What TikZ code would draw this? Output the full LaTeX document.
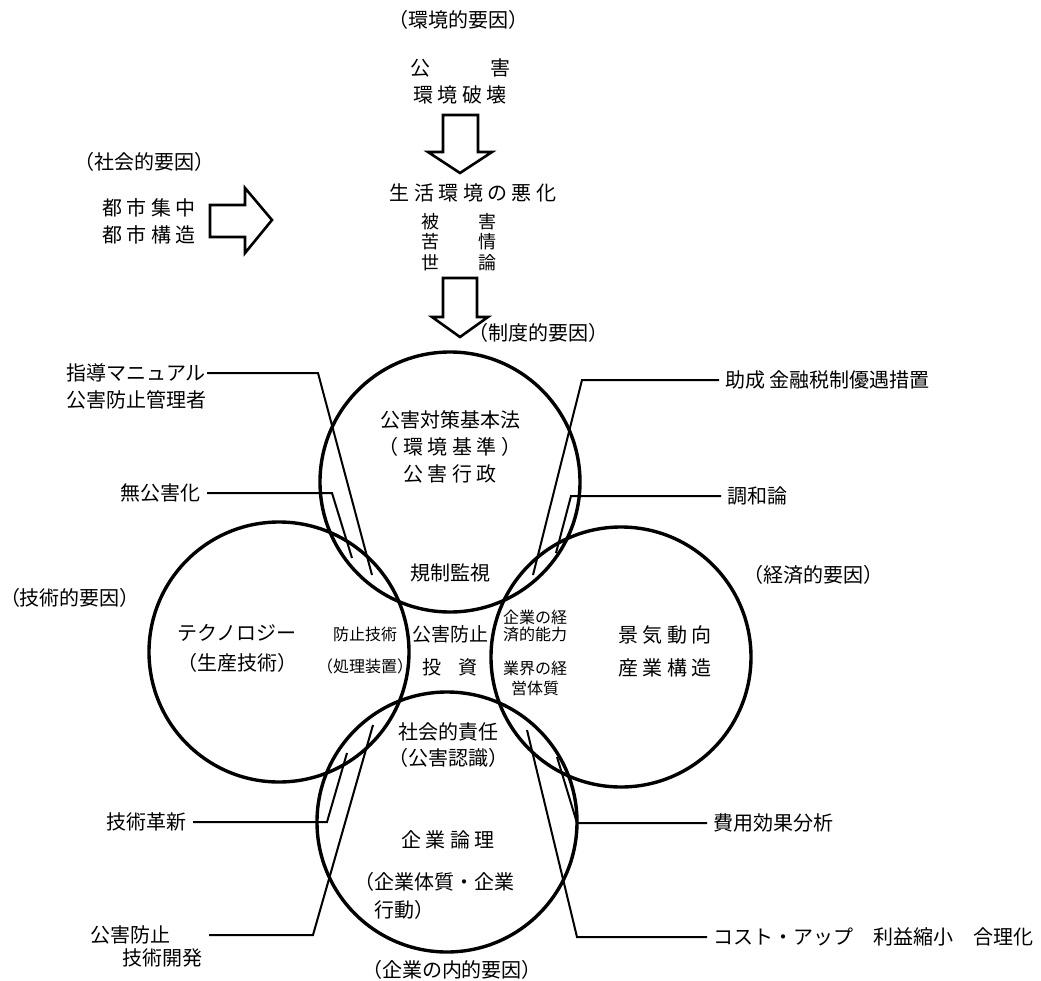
\documentclass[tikz,border=0pt]{standalone}
\usepackage{fontspec}
\setmainfont{Noto Sans CJK JP}
\usepackage{tikz}
\usetikzlibrary{positioning}

\begin{document}
\begin{tikzpicture}[x=0.5pt,y=-0.5pt,
    txt/.style={font=\fontsize{10}{13.5}\selectfont, inner sep=1pt},
    tag/.style={txt, inner xsep=3pt},
    smalltxt/.style={font=\fontsize{8}{8.5}\selectfont, inner sep=1pt},
    ring/.style={line width=1.7pt},
    leader/.style={line width=1pt},
    hollow/.style={line width=1.3pt, line join=miter}]

  \useasboundingbox (0,0) rectangle (1041,981);

  % \draw circles
  \draw[ring] (450,482) circle [radius=130];
  \draw[ring] (279,652) circle [radius=130];
  \draw[ring] (621,657) circle [radius=130];
  \draw[ring] (447,822) circle [radius=130];

  % top texts
  \node[txt] (envfactor) at (458,20) {（環境的要因）};
  \node[txt, align=center] (pollution) at (460,81) {公\hspace{30pt}害\\環 境 破 壊};
  \node[txt] (living) at (473,193) {生 活 環 境 の 悪 化};
  \node[font=\fontsize{9}{10.25}\selectfont, inner sep=1pt, align=center] (damage) at (459,242)
    {被\hspace{20pt}害\\苦\hspace{20pt}情\\世\hspace{20pt}論};
  \node[txt] (socfactor) at (145,162) {（社会的要因）};
  \node[txt, align=center] (urban) at (149,221) {都 市 集 中\\都 市 構 造};
  \node[txt] (instfactor) at (538,333) {（制度的要因）};

  % \draw hollow arrows
  \coordinate (a1) at (460,115);
  \draw[hollow] (a1) ++(-17,0) -- ++(35,0) -- ++(0,37) -- ++(14,0) -- ++(-32,21)
    -- ++(-32,-21) -- ++(15,0) -- cycle;
  \coordinate (a2) at (460,278);
  \draw[hollow] (a2) ++(-17,0) -- ++(34,0) -- ++(0,39) -- ++(11,0) -- ++(-28,20)
    -- ++(-28,-20) -- ++(11,0) -- cycle;
  \coordinate (a3) at (210,221);
  \draw[hollow] (a3) ++(0,-16) -- ++(35,0) -- ++(0,-17) -- ++(27,32) -- ++(-27,33)
    -- ++(0,-16) -- ++(-35,0) -- cycle;

  % circle texts
  \node[txt, align=center] (basiclaw) at (450,447) {公害対策基本法\\（ 環 境 基 準 ）\\公 害 行 政};
  \node[txt] (regulation) at (450,573) {規制監視};
  \node[txt, align=center, font=\fontsize{10}{15}\selectfont] (techno) at (237,648) {テクノロジー\\（生産技術）};
  \node[smalltxt, align=center, font=\fontsize{8}{16}\selectfont] (prevtech) at (365,651) {防止技術\\（処理装置）};
  \node[txt, align=center, font=\fontsize{9.5}{16.5}\selectfont] (investment) at (450,651) {公害防止\\投\hspace{9pt}資};
  \node[smalltxt, align=center] (capacity) at (535,626) {企業の経\\済的能力};
  \node[smalltxt, align=center, font=\fontsize{8}{10}\selectfont] (quality) at (535,678) {業界の経\\営体質};
  \node[txt, align=center, font=\fontsize{10}{16.5}\selectfont] (economy) at (665,651) {景 気 動 向\\産 業 構 造};
  \node[txt, align=center, font=\fontsize{10}{13}\selectfont] (responsibility) at (448,745) {社会的責任\\（公害認識）};
  \node[txt] (logic) at (448,840) {企 業 論 理};
  \node[txt, align=left, anchor=west, font=\fontsize{10}{14}\selectfont] (behaviour) at (352,896) {（企業体質・企業\\\hspace*{1em}行動）};

  % factor texts
  \node[txt] (econfactor) at (813,575) {（経済的要因）};
  \node[txt] (techfactor) at (70,598) {（技術的要因）};
  \node[txt] (innerfactor) at (452,970) {（企業の内的要因）};

  % side texts
  \node[tag, align=left, anchor=east] (manual) at (213,386) {指導マニュアル\\公害防止管理者};
  \node[tag, anchor=east] (nonpoll) at (207,493) {無公害化};
  \node[tag, anchor=east] (innovation) at (193,822) {技術革新};
  \node[tag, align=left, anchor=east, font=\fontsize{10}{11.5}\selectfont] (development) at (209,946) {公害防止\\\hspace*{1.6em}技術開発};
  \node[tag, anchor=west] (subsidy) at (719,380) {助成 金融税制優遇措置};
  \node[tag, anchor=west] (harmony) at (721,496) {調和論};
  \node[tag, anchor=west] (costbenefit) at (707,823) {費用効果分析};
  \node[tag, anchor=west] (costup) at (707,937) {コスト・アップ　利益縮小　合理化};

  % \draw leader lines
  \coordinate (k1) at (318,373); \coordinate (t1) at (372,575);
  \coordinate (k2) at (332,493); \coordinate (t2) at (352,558);
  \coordinate (k3) at (582,380); \coordinate (t3) at (533,575);
  \coordinate (k4) at (571,496); \coordinate (t4) at (556,553);
  \coordinate (k5) at (327,822); \coordinate (t5) at (347,753);
  \coordinate (k6) at (313,935); \coordinate (t6) at (373,725);
  \coordinate (k7) at (577,823); \coordinate (t7) at (557,757);
  \coordinate (k8) at (577,937); \coordinate (t8) at (527,730);
  \draw[leader, shorten <=-3pt] (manual.east |- k1) -- (k1) -- (t1);
  \draw[leader] (nonpoll.east) -- (k2) -- (t2);
  \draw[leader] (subsidy.west) -- (k3) -- (t3);
  \draw[leader] (harmony.west) -- (k4) -- (t4);
  \draw[leader] (innovation.east) -- (k5) -- (t5);
  \draw[leader] (development.east |- k6) -- (k6) -- (t6);
  \draw[leader] (costbenefit.west) -- (k7) -- (t7);
  \draw[leader] (costup.west) -- (k8) -- (t8);

\end{tikzpicture}
\end{document}
